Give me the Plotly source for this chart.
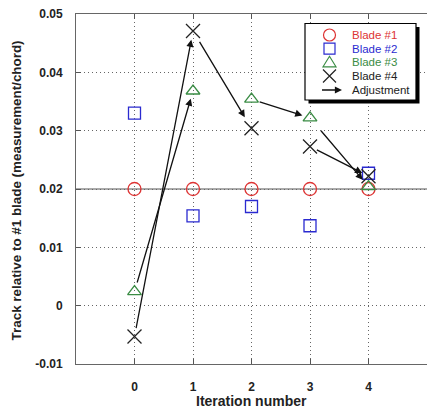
import plotly.graph_objects as go

# ---------------- data ----------------
iterations = [0, 1, 2, 3, 4]
blade1 = [0.0200, 0.0200, 0.0200, 0.0200, 0.0200]
blade2 = [0.0330, 0.0154, 0.0170, 0.0137, 0.0227]
blade3 = [0.0024, 0.0368, 0.0354, 0.0322, 0.0204]
blade4 = [-0.0053, 0.0471, 0.0304, 0.0273, 0.0222]
series_names = ["Blade #1", "Blade #2", "Blade #3", "Blade #4"]
adjust_label = "Adjustment"
# adjustments: (blade index, from iteration, to iteration)
adjustments = [(3, 0, 1), (2, 0, 1), (3, 1, 2), (2, 2, 3), (3, 3, 4), (2, 3, 4)]
y_tickvals = [-0.01, 0, 0.01, 0.02, 0.03, 0.04, 0.05]
y_ticktext = ["-0.01", "0", "0.01", "0.02", "0.03", "0.04", "0.05"]
x_tickvals = [0, 1, 2, 3, 4]
x_ticktext = ["0", "1", "2", "3", "4"]
x_title = "Iteration number"
y_title = "Track relative to #1 blade (measurement/chord)"
reference_level = 0.02

# ---------------- style ----------------
W, H = 427, 412
ML, MR, MT, MB = 76, 0, 14, 48
colors = ["#dd3333", "#2a2ad0", "#3a8c44", "#222222"]
symbols = ["circle-open", "square-open", "triangle-up-open", "x-thin-open"]
sizes = [13, 12, 12, 14]
arrow_gaps = [(7, 9), (8, 8), (11, 13), (7, 8), (6, 7), (15, 9)]  # (start, end) px
FONT = "Liberation Sans, Arial, sans-serif"
GRID_DASH = "1px,3px"

all_series = [blade1, blade2, blade3, blade4]

fig = go.Figure()

# reference line at the blade #1 level
fig.add_shape(type="line", xref="paper", yref="y", x0=0, x1=1,
              y0=reference_level, y1=reference_level,
              line=dict(color="#555555", width=1), layer="between")

for i, (name, ys) in enumerate(zip(series_names, all_series)):
    fig.add_trace(go.Scatter(
        x=iterations, y=ys, mode="markers", name=name, showlegend=False,
        marker=dict(symbol=symbols[i], size=sizes[i], color=colors[i],
                    line=dict(color=colors[i], width=1.3)),
        xaxis="x", yaxis="y"))

annotations = []
for (b, i0, i1), (g0, g1) in zip(adjustments, arrow_gaps):
    ys = all_series[b]
    annotations.append(dict(
        x=iterations[i1], y=ys[i1], ax=iterations[i0], ay=ys[i0],
        xref="x", yref="y", axref="x", ayref="y",
        showarrow=True, arrowhead=2, arrowsize=1.1, arrowwidth=1.3,
        arrowcolor="#111111", standoff=g1, startstandoff=g0, text=""))

# ---------------- manual legend (pixel overlay axes) ----------------
box = dict(x0=305, x1=416, y0=23.5, y1=100)
fig.add_shape(type="rect", xref="x2", yref="y2",
              x0=box["x0"] + 3.5, x1=box["x1"] + 3.5, y0=box["y0"] + 3.5, y1=box["y1"] + 3.5,
              fillcolor="#000000", line=dict(width=0), layer="above")
fig.add_shape(type="rect", xref="x2", yref="y2",
              x0=box["x0"], x1=box["x1"], y0=box["y0"], y1=box["y1"],
              fillcolor="#ffffff", line=dict(color="#000000", width=1.2), layer="above")

row_y = [35, 48.7, 62.3, 76, 90]
mx = 329.5
text_x = 350
r = 6
lw = 1.2
# circle
fig.add_shape(type="circle", xref="x2", yref="y2", x0=mx - r, x1=mx + r,
              y0=row_y[0] - r, y1=row_y[0] + r, line=dict(color=colors[0], width=lw), layer="above")
# square
fig.add_shape(type="rect", xref="x2", yref="y2", x0=mx - 5.5, x1=mx + 5.5,
              y0=row_y[1] - 5.5, y1=row_y[1] + 5.5, line=dict(color=colors[1], width=lw), layer="above")
# triangle
ty = row_y[2]
fig.add_shape(type="path", xref="x2", yref="y2",
              path=f"M {mx - 6.5} {ty + 4.5} L {mx + 6.5} {ty + 4.5} L {mx} {ty - 6} Z",
              line=dict(color=colors[2], width=lw), layer="above")
# x
xy = row_y[3]
fig.add_shape(type="path", xref="x2", yref="y2",
              path=f"M {mx - 6.5} {xy - 6.5} L {mx + 6.5} {xy + 6.5} M {mx - 6.5} {xy + 6.5} L {mx + 6.5} {xy - 6.5}",
              line=dict(color=colors[3], width=lw), layer="above")

for i, name in enumerate(series_names + [adjust_label]):
    annotations.append(dict(
        x=text_x, y=row_y[i], xref="x2", yref="y2", xanchor="left", yanchor="middle",
        text=name, showarrow=False,
        font=dict(family=FONT, size=11.5, color=colors[i] if i < 4 else "#222222")))
annotations.append(dict(
    x=342, y=row_y[4], ax=320.5, ay=row_y[4], xref="x2", yref="y2", axref="x2", ayref="y2",
    showarrow=True, arrowhead=2, arrowsize=1.1, arrowwidth=1.3, arrowcolor="#111111", text=""))

# axis titles
annotations.append(dict(x=0.5, y=-0.105, xref="paper", yref="paper", text=x_title,
                        showarrow=False, xanchor="center", yanchor="middle",
                        font=dict(family=FONT, size=14, color="#222222", weight="bold")))
annotations.append(dict(x=-0.17, y=0.497, xref="paper", yref="paper", text=y_title,
                        showarrow=False, xanchor="center", yanchor="middle", textangle=-90,
                        font=dict(family=FONT, size=13.4, color="#222222", weight="bold")))

fig.update_layout(
    width=W, height=H, margin=dict(l=ML, r=MR, t=MT, b=MB),
    paper_bgcolor="white", plot_bgcolor="white", showlegend=False,
    annotations=annotations,
    font=dict(family=FONT, color="#222222"),
    xaxis=dict(range=[-1, 5], tickvals=x_tickvals, ticktext=x_ticktext,
               showgrid=True, gridcolor="#666666", griddash=GRID_DASH, gridwidth=1,
               zeroline=False, showline=True, linecolor="#666666", linewidth=1,
               mirror="ticks", ticks="inside", ticklen=5, tickcolor="#555555",
               ticklabelstandoff=12,
               tickfont=dict(family=FONT, size=12, color="#222222", weight="bold")),
    yaxis=dict(range=[-0.01, 0.05], tickvals=y_tickvals, ticktext=y_ticktext,
               showgrid=True, gridcolor="#666666", griddash=GRID_DASH, gridwidth=1,
               zeroline=False, showline=True, linecolor="#666666", linewidth=1,
               ticks="inside", ticklen=5, tickcolor="#555555",
               ticklabelstandoff=10,
               tickfont=dict(family=FONT, size=12, color="#222222", weight="bold")),
    xaxis2=dict(range=[ML, W - MR], overlaying="x", visible=False, fixedrange=True),
    yaxis2=dict(range=[H - MB, MT], overlaying="y", visible=False, fixedrange=True),
)

fig.write_html("out.html", config={"displayModeBar": False},
               post_script="document.body.style.margin='0';document.body.style.overflow='hidden';")
